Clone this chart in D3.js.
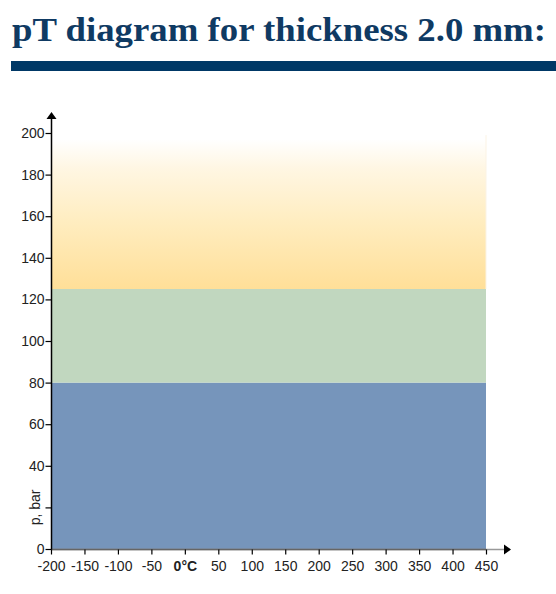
<!DOCTYPE html>
<html><head><meta charset="utf-8">
<script src="https://cdn.jsdelivr.net/npm/d3@7"></script>
<style>body{margin:0;background:#fff}svg{display:block}</style>
</head><body>
<svg id="c" width="556" height="594"></svg>
<script>
const title = "pT diagram for thickness 2.0 mm:";
const xTicks = [-200,-150,-100,-50,0,50,100,150,200,250,300,350,400,450];
const yTicks = [0,20,40,60,80,100,120,140,160,180,200];
const yTickLabels = ["0","","40","60","80","100","120","140","160","180","200"];
const zoneNames = ["low","mid","high"];
const zoneFrom = [0,80,125];
const zoneTo = [80,125,197];
const zoneColors = ["#7695bb","#c1d7bf","url(#grad)"];
const tMin = -200, tMax = 450;

const svg = d3.select("#c");
const x = d3.scaleLinear().domain([-200,450]).range([51,486]);
const y = d3.scaleLinear().domain([0,200]).range([549,133]);

svg.append("text").attr("x",12).attr("y",41)
  .attr("font-family","Liberation Serif").attr("font-weight","bold").attr("font-size",34)
  .attr("fill","#0f3a63").attr("textLength",534).attr("lengthAdjust","spacingAndGlyphs")
  .text(title);
svg.append("rect").attr("x",11).attr("y",61).attr("width",545).attr("height",10).attr("fill","#003866");

const defs = svg.append("defs");
const g = defs.append("linearGradient").attr("id","grad").attr("x1",0).attr("y1",1).attr("x2",0).attr("y2",0);
g.append("stop").attr("offset","0%").attr("stop-color","#ffdf98");
g.append("stop").attr("offset","45%").attr("stop-color","#ffedc0");
g.append("stop").attr("offset","80%").attr("stop-color","#fff6e2");
g.append("stop").attr("offset","100%").attr("stop-color","#ffffff");

svg.selectAll("rect.zone").data(zoneNames).join("rect").attr("class","zone")
  .attr("x",x(tMin)).attr("width",x(tMax)-x(tMin))
  .attr("y",(d,i)=>y(zoneTo[i])).attr("height",(d,i)=>y(zoneFrom[i])-y(zoneTo[i]))
  .attr("fill",(d,i)=>zoneColors[i]);
svg.append("line").attr("x1",x(tMax)).attr("x2",x(tMax)).attr("y1",y(125)).attr("y2",y(199))
  .attr("stroke","#fbf3e4").attr("stroke-width",1);

// x axis
svg.append("line").attr("x1",51).attr("x2",505).attr("y1",549.5).attr("y2",549.5).attr("stroke","#999").attr("stroke-width",1.5);
svg.append("line").attr("x1",51).attr("x2",x(tMax)).attr("y1",549.5).attr("y2",549.5).attr("stroke","#666").attr("stroke-width",1.5);
svg.append("path").attr("d","M504,544.5L511,549.5L504,554.5Z").attr("fill","#000");
const xa = svg.append("g").attr("transform","translate(0,549.5)")
  .call(d3.axisBottom(x).tickValues(xTicks).tickSize(5).tickFormat(d=>d===0?"0°C":d));
xa.select(".domain").remove();
xa.selectAll(".tick line").attr("stroke","#000").attr("stroke-width",1.2);
xa.selectAll(".tick text").attr("font-family","Liberation Sans, Arial").attr("font-size",14)
  .attr("fill","#222").attr("dy","0.95em")
  .attr("font-weight",d=>d===0?"bold":"normal");

// y axis
svg.append("line").attr("x1",51.5).attr("x2",51.5).attr("y1",549.5).attr("y2",117).attr("stroke","#000").attr("stroke-width",1.5);
svg.append("path").attr("d","M46.5,119L51.5,112L56.5,119Z").attr("fill","#000");
const ya = svg.append("g").attr("transform","translate(51.5,0)")
  .call(d3.axisLeft(y).tickValues(yTicks).tickSize(6).tickFormat((d,i)=>yTickLabels[i]));
ya.select(".domain").remove();
ya.selectAll(".tick line").attr("stroke","#000").attr("stroke-width",1.2);
ya.selectAll(".tick text").attr("font-family","Liberation Sans, Arial").attr("font-size",14)
  .attr("fill","#222").attr("x",-7);

svg.append("text").attr("transform","translate(40,"+y(20)+") rotate(-90)")
  .attr("text-anchor","middle").attr("font-family","Liberation Sans, Arial").attr("font-size",14)
  .attr("fill","#222").text("p, bar");
</script>
</body></html>
